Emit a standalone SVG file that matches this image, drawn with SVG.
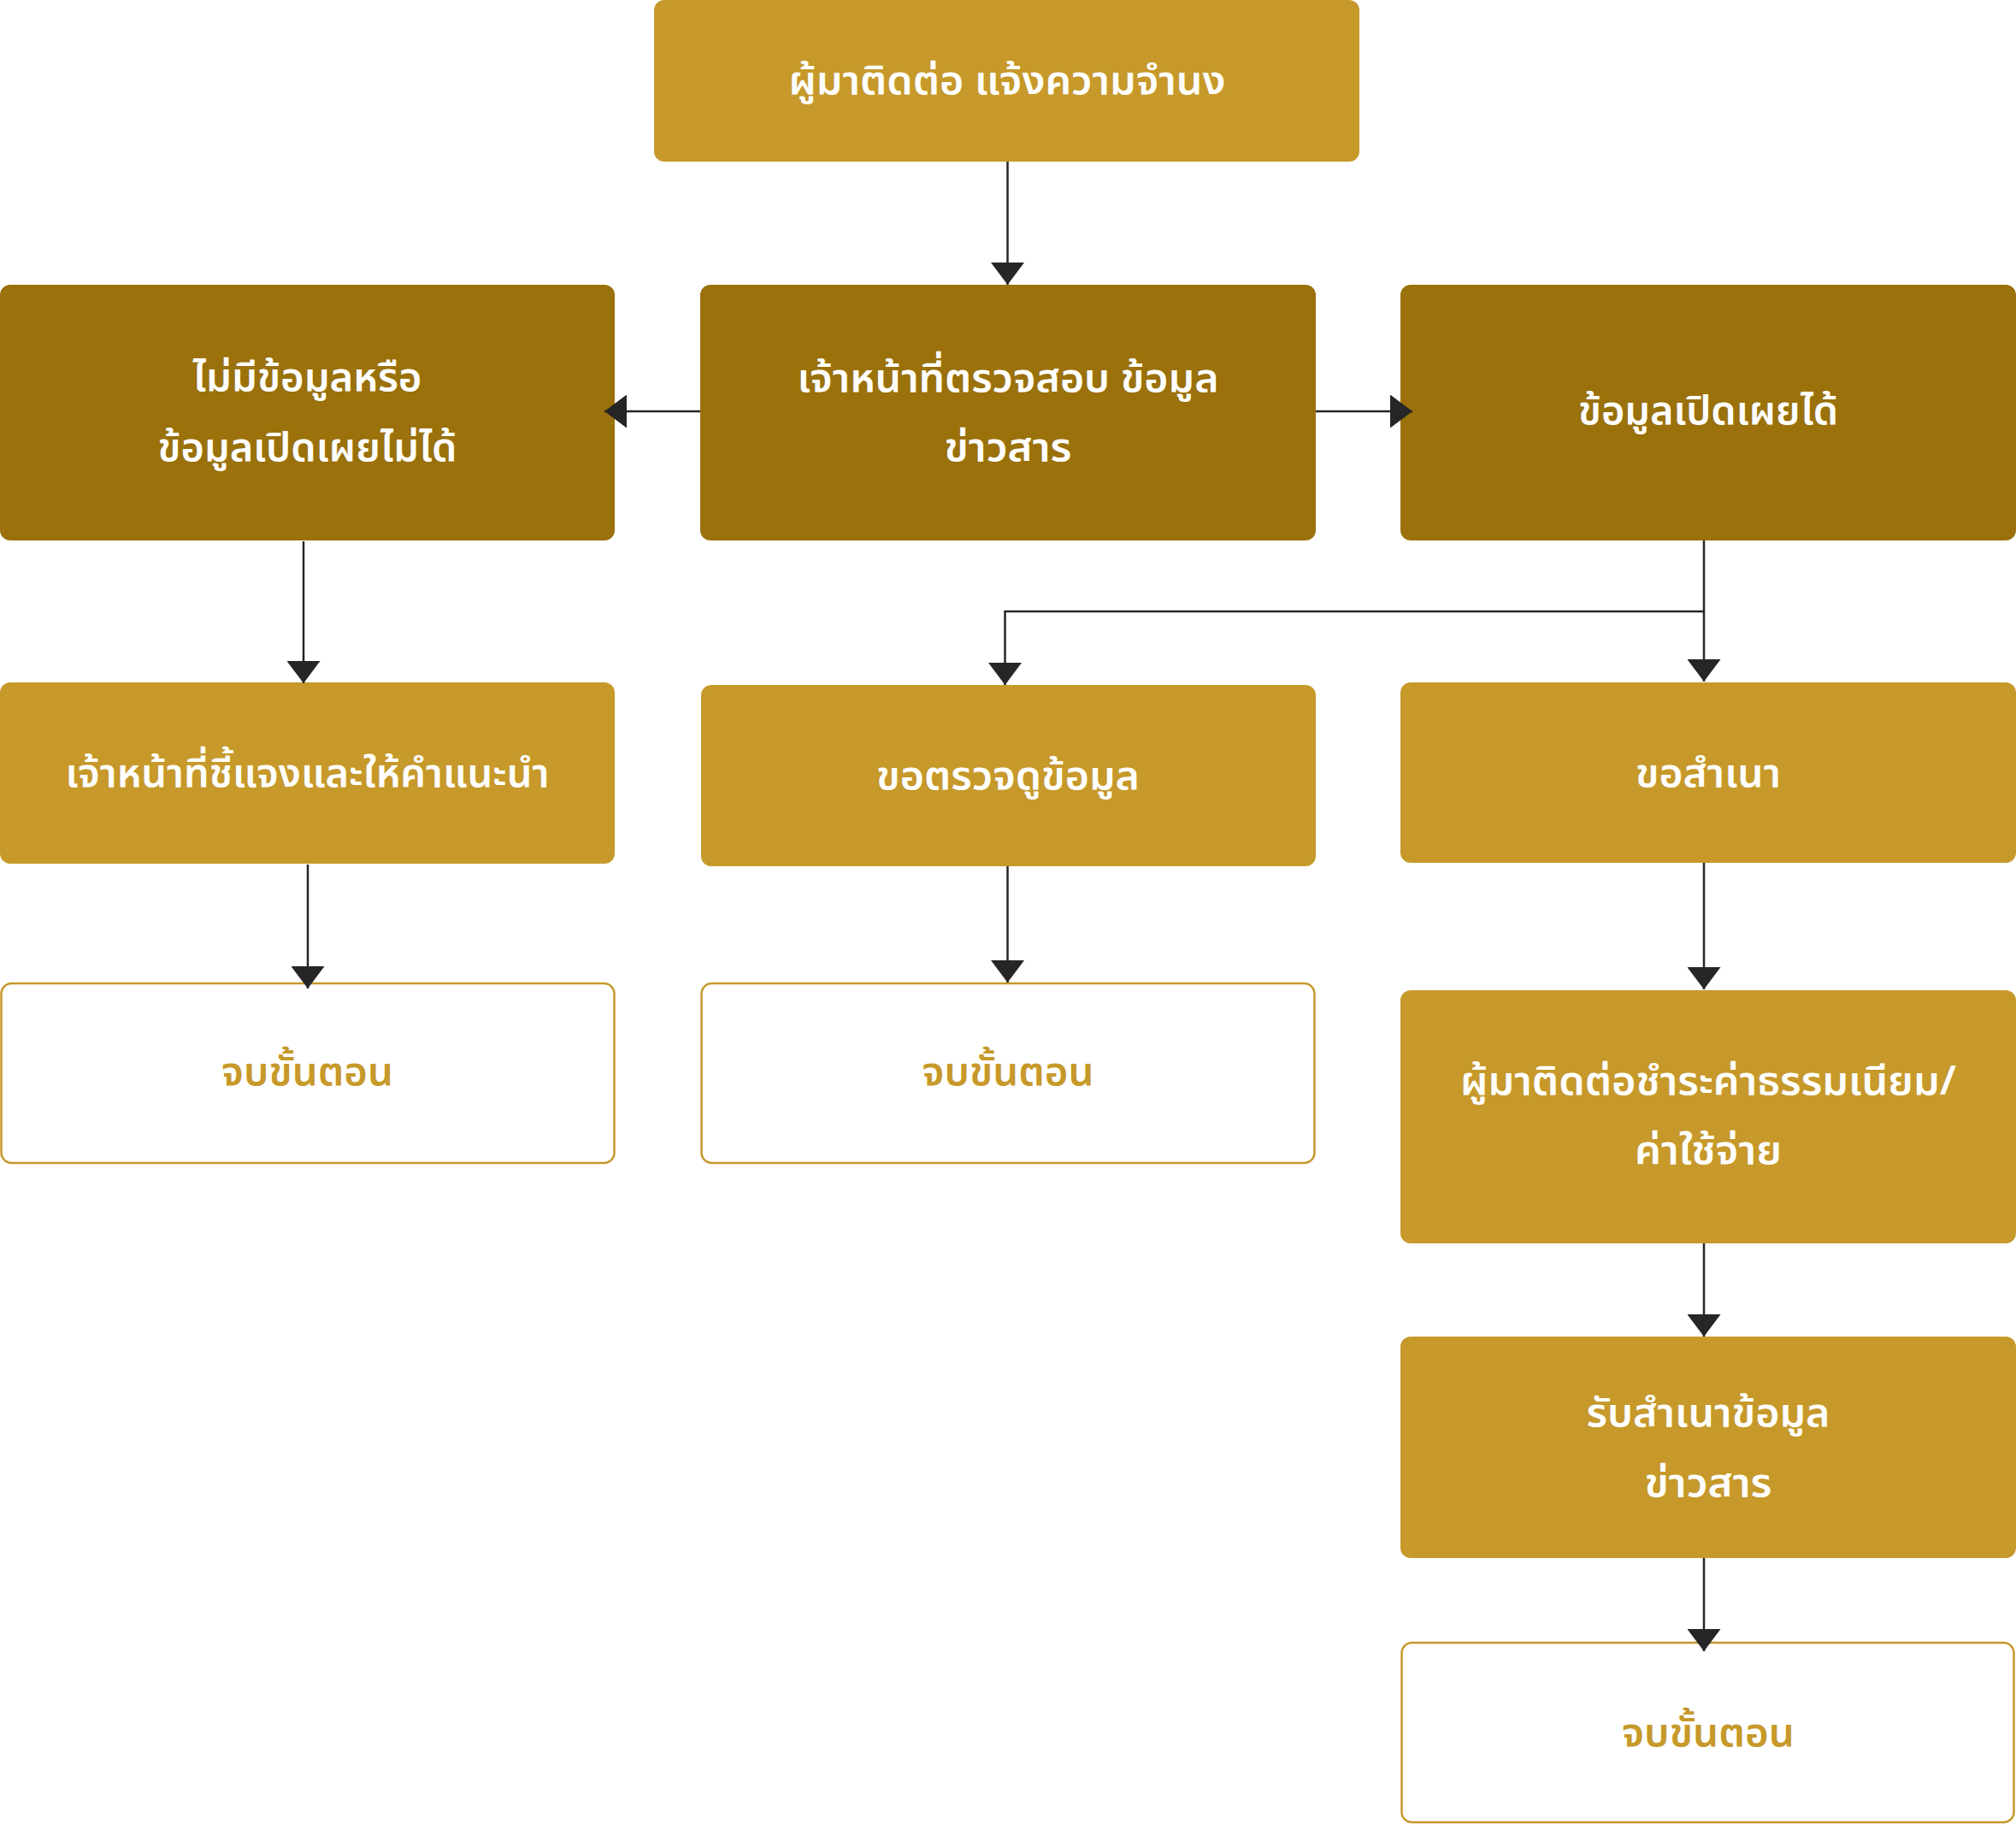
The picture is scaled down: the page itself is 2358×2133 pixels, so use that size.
<svg xmlns="http://www.w3.org/2000/svg" width="2358" height="2133" viewBox="0 0 2358 2133">
<defs>
<style>
.light{fill:#C6992A}
.dark{fill:#9A710B}
.end{fill:#FFFFFF;stroke:#C6992A;stroke-width:2.5}
.t{font-family:"Noto Sans Thai","Noto Sans Thai UI","Noto Sans","DejaVu Sans",sans-serif;font-size:46px;font-weight:600;fill:#FFFFFF;text-anchor:middle}
.te{fill:#C6992A}
.c{fill:none;stroke:#262626;stroke-width:2.5}
</style>
<marker id="ah" markerUnits="userSpaceOnUse" markerWidth="26" markerHeight="39" refX="26" refY="19.5" orient="auto">
<path d="M0,0 L26,19.5 L0,39 Z" fill="#262626"/>
</marker>
</defs>
<rect width="2358" height="2133" fill="#FFFFFF"/>
<g id="n_start">
<rect class="light" x="765" y="0" width="825" height="189" rx="12"/>
<text class="t" x="1178" y="110" textLength="511" lengthAdjust="spacingAndGlyphs">ผู้มาติดต่อ แจ้งความจำนง</text>
</g>
<g id="n_check">
<rect class="dark" x="819" y="333" width="720" height="299" rx="12"/>
<text class="t" x="1179" y="458" textLength="493" lengthAdjust="spacingAndGlyphs">เจ้าหน้าที่ตรวจสอบ ข้อมูล</text>
<text class="t" x="1179" y="539" textLength="149" lengthAdjust="spacingAndGlyphs">ข่าวสาร</text>
</g>
<g id="n_no">
<rect class="dark" x="0" y="333" width="719" height="299" rx="12"/>
<text class="t" x="359.5" y="457" textLength="268" lengthAdjust="spacingAndGlyphs">ไม่มีข้อมูลหรือ</text>
<text class="t" x="359.5" y="539" textLength="350" lengthAdjust="spacingAndGlyphs">ข้อมูลเปิดเผยไม่ได้</text>
</g>
<g id="n_yes">
<rect class="dark" x="1638" y="333" width="720" height="299" rx="12"/>
<text class="t" x="1998" y="496" textLength="304" lengthAdjust="spacingAndGlyphs">ข้อมูลเปิดเผยได้</text>
</g>
<g id="n_explain">
<rect class="light" x="0" y="798" width="719" height="212" rx="12"/>
<text class="t" x="359.5" y="920" textLength="566" lengthAdjust="spacingAndGlyphs">เจ้าหน้าที่ชี้แจงและให้คำแนะนำ</text>
</g>
<g id="n_inspect">
<rect class="light" x="820" y="801" width="719" height="212" rx="12"/>
<text class="t" x="1179" y="923" textLength="308" lengthAdjust="spacingAndGlyphs">ขอตรวจดูข้อมูล</text>
</g>
<g id="n_copy">
<rect class="light" x="1638" y="798" width="720" height="211" rx="12"/>
<text class="t" x="1998" y="920" textLength="170" lengthAdjust="spacingAndGlyphs">ขอสำเนา</text>
</g>
<g id="n_end1">
<rect class="end" x="1.5" y="1150" width="717" height="210" rx="12"/>
<text class="t te" x="359.5" y="1269" textLength="201" lengthAdjust="spacingAndGlyphs">จบขั้นตอน</text>
</g>
<g id="n_end2">
<rect class="end" x="820.5" y="1150" width="717" height="210" rx="12"/>
<text class="t te" x="1179" y="1269" textLength="201" lengthAdjust="spacingAndGlyphs">จบขั้นตอน</text>
</g>
<g id="n_fee">
<rect class="light" x="1638" y="1158" width="720" height="296" rx="12"/>
<text class="t" x="1998" y="1280" textLength="580" lengthAdjust="spacingAndGlyphs">ผู้มาติดต่อชำระค่าธรรมเนียม/</text>
<text class="t" x="1998" y="1361" textLength="172" lengthAdjust="spacingAndGlyphs">ค่าใช้จ่าย</text>
</g>
<g id="n_receive">
<rect class="light" x="1638" y="1563" width="720" height="259" rx="12"/>
<text class="t" x="1998" y="1668" textLength="285" lengthAdjust="spacingAndGlyphs">รับสำเนาข้อมูล</text>
<text class="t" x="1998" y="1750" textLength="149" lengthAdjust="spacingAndGlyphs">ข่าวสาร</text>
</g>
<g id="n_end3">
<rect class="end" x="1639.5" y="1921" width="716" height="210" rx="12"/>
<text class="t te" x="1998" y="2042" textLength="202" lengthAdjust="spacingAndGlyphs">จบขั้นตอน</text>
</g>
<g id="connectors">
<path class="c" d="M1178.5,189 V333" marker-end="url(#ah)"/>
<path class="c" d="M819,481 H707" marker-end="url(#ah)"/>
<path class="c" d="M1539,481 H1652" marker-end="url(#ah)"/>
<path class="c" d="M355,633 V799" marker-end="url(#ah)"/>
<path class="c" d="M1993,632 V797" marker-end="url(#ah)"/>
<path class="c" d="M1993,715 H1175.5 V801" marker-end="url(#ah)"/>
<path class="c" d="M360,1011 V1156" marker-end="url(#ah)"/>
<path class="c" d="M1178.5,1013 V1149" marker-end="url(#ah)"/>
<path class="c" d="M1993,1009 V1157" marker-end="url(#ah)"/>
<path class="c" d="M1993,1454 V1563" marker-end="url(#ah)"/>
<path class="c" d="M1993,1822 V1931" marker-end="url(#ah)"/>
</g>
</svg>
